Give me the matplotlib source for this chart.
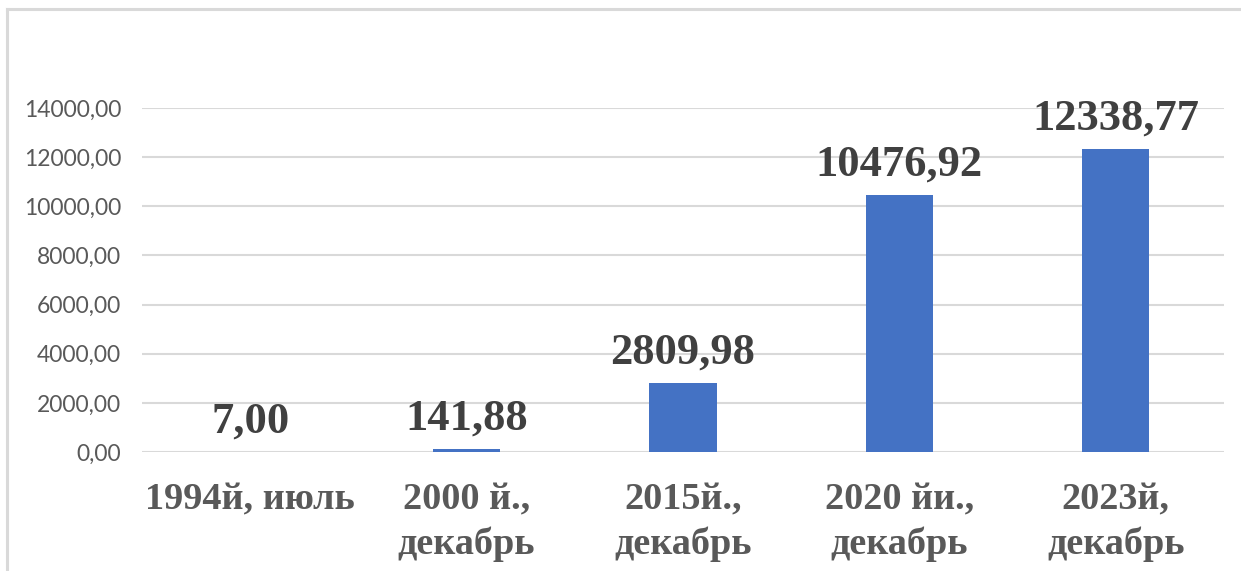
import matplotlib.pyplot as plt
from matplotlib.lines import Line2D
from matplotlib.ticker import FuncFormatter

categories = ["1994й, июль", "2000 й.,\nдекабрь", "2015й.,\nдекабрь",
              "2020 йи.,\nдекабрь", "2023й,\nдекабрь"]
values = [7.00, 141.88, 2809.98, 10476.92, 12338.77]
value_labels = ["7,00", "141,88", "2809,98", "10476,92", "12338,77"]
y_ticks = [0, 2000, 4000, 6000, 8000, 10000, 12000, 14000]

W, H = 1241, 571
fig = plt.figure(figsize=(W / 100, H / 100), dpi=100)
ax = fig.add_axes([142 / W, 119 / H, 1082 / W, 344 / H])

x = list(range(len(categories)))
ax.bar(x, values, width=0.31, color="#4472C4", zorder=3)

ax.set_ylim(0, 14000)
ax.set_xlim(-0.5, len(categories) - 0.5)
ax.set_yticks(y_ticks)
ax.yaxis.set_major_formatter(FuncFormatter(lambda v, p: f"{v:.2f}".replace(".", ",")))
ax.grid(axis="y", color="#D9D9D9", linewidth=1.5, zorder=0)
for s in ax.spines.values():
    s.set_visible(False)
ax.tick_params(axis="y", length=0, pad=15, labelsize=16.5, labelcolor="#595959")
for t in ax.get_yticklabels():
    t.set_fontfamily("Lato")
ax.set_xticks(x)
ax.set_xticklabels(categories, fontfamily="Liberation Serif", fontweight="bold",
                   fontsize=27.5, color="#595959", linespacing=1.32)
ax.tick_params(axis="x", length=0, pad=22)

for xi, v, lab in zip(x, values, value_labels):
    ax.annotate(lab, (xi, v), xytext=(0, 14), textcoords="offset points",
                ha="center", va="baseline", fontfamily="Liberation Serif",
                fontweight="bold", fontsize=32, color="#404040")

# outer chart frame (left and top edges)
fig.add_artist(Line2D([7 / W, 7 / W], [0, 1 - 9 / H], transform=fig.transFigure,
                      color="#D9D9D9", linewidth=2.2))
fig.add_artist(Line2D([7 / W, 1], [1 - 9 / H, 1 - 9 / H], transform=fig.transFigure,
                      color="#D9D9D9", linewidth=2.2))

fig.savefig("out.png", dpi=100)
